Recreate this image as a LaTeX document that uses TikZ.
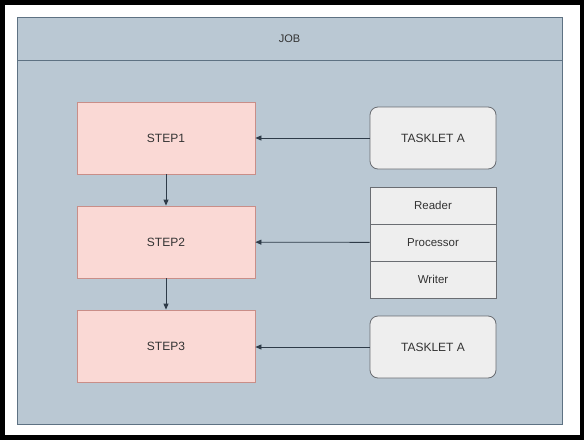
\documentclass[tikz,border=0pt]{standalone}
\usepackage{xcolor}
\usepackage{fontspec}
\setmainfont{Liberation Sans}
\usepackage{tikz}
\usetikzlibrary{arrows.meta}

\definecolor{jobfill}{HTML}{BAC8D3}
\definecolor{jobline}{HTML}{5E7283}
\definecolor{stepfill}{HTML}{FAD9D5}
\definecolor{stepline}{HTML}{C98E88}
\definecolor{taskfill}{HTML}{EEEEEE}
\definecolor{taskline}{HTML}{6A6D72}
\definecolor{textgray}{HTML}{333333}
\definecolor{arrowgray}{HTML}{2E3B48}

\begin{document}
\begin{tikzpicture}[x=1pt, y=-1pt,
    every node/.style={text=textgray, font=\fontsize{12}{14}\selectfont},
    jobbox/.style={draw=jobline, fill=jobfill, line width=0.9pt, rectangle, minimum width=545pt, inner sep=0pt},
    stepbox/.style={draw=stepline, fill=stepfill, line width=0.8pt, rectangle, minimum width=178pt, minimum height=72pt},
    taskletbox/.style={draw=taskline, fill=taskfill, line width=0.8pt, rounded corners=8pt, minimum width=126pt, minimum height=62pt},
    chunkbox/.style={draw=taskline, fill=taskfill, line width=0.8pt, rectangle, minimum width=126pt, minimum height=37pt, font=\fontsize{11.5}{13}\selectfont},
    flow/.style={draw=arrowgray, line width=0.8pt, -{Triangle[length=6pt, width=5pt]}}]
    \useasboundingbox (0, 0) rectangle (584, 440);
    \fill[black] (0, 0) rectangle (584, 440);
    \fill[white] (5, 5) rectangle (580, 435);

    \node[jobbox, minimum height=407pt] at (289.5, 220.5) (job) {};
    \node[jobbox, minimum height=43pt, font=\fontsize{11}{13}\selectfont] at (289.5, 38.5) (jobhead) {JOB};

    \node[stepbox] at (166, 138) (step1) {STEP1};
    \node[stepbox] at (166, 242) (step2) {STEP2};
    \node[stepbox] at (166, 346) (step3) {STEP3};

    \node[taskletbox] at (433, 138) (taskletA1) {TASKLET A};
    \node[chunkbox] at (433, 205.5) (reader) {Reader};
    \node[chunkbox] at (433, 242.5) (processor) {Processor};
    \node[chunkbox] at (433, 279.5) (writer) {Writer};
    \node[taskletbox] at (433, 347) (taskletA2) {TASKLET A};

    \draw[flow] (step1) -- (step2);
    \draw[flow] (step2) -- (step3);
    \draw[flow] (taskletA1) -- (step1);
    \draw[flow] (processor) -- (step2);
    \draw[flow] (taskletA2.west) -- (step3.east |- taskletA2.west);
\end{tikzpicture}
\end{document}
